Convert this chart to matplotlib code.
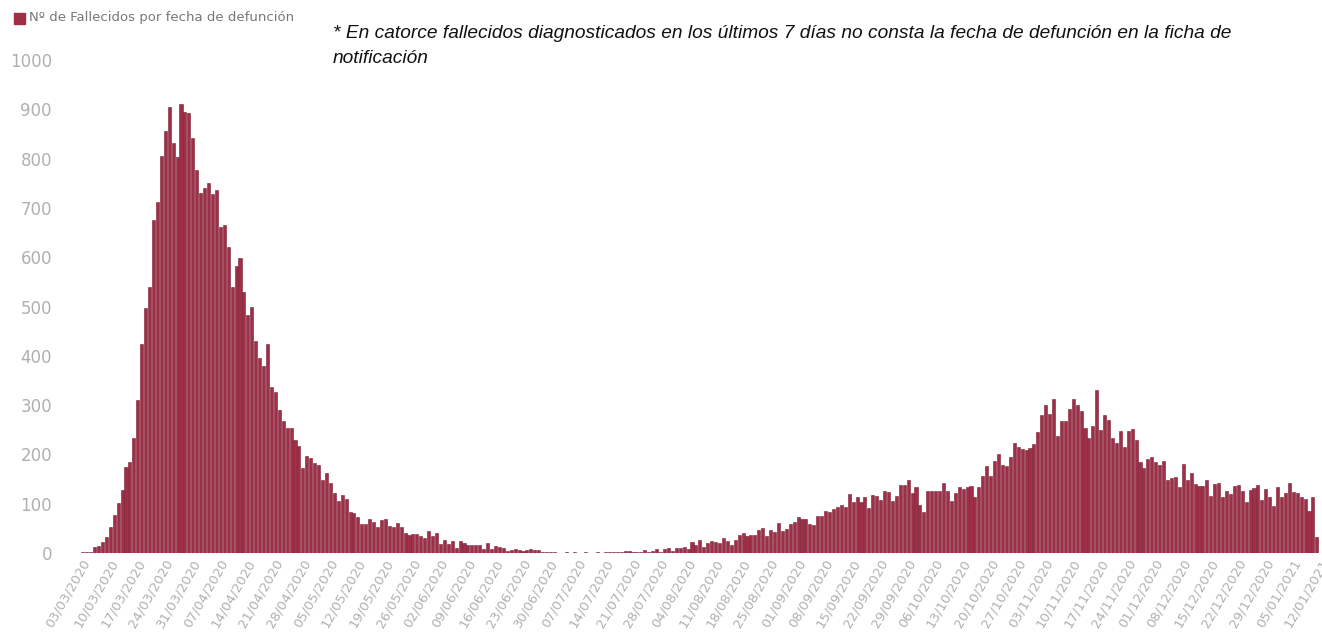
import matplotlib
matplotlib.use("Agg")
import matplotlib.pyplot as plt
import matplotlib.dates as mdates
from matplotlib.transforms import ScaledTranslation
from matplotlib.patches import Rectangle
import numpy as np
import pandas as pd

# daily deaths by date of death, starting 03/03/2020
start_date = "2020-03-03"
deaths = [
    1, 1, 2, 2, 3,
    12, 15, 23, 33, 53, 77, 102, 127, 174, 184,
    234, 311, 424, 496, 539, 675, 711, 806, 856, 905,
    832, 804, 910, 895, 893, 842, 776, 731, 741, 751,
    728, 736, 661, 666, 621, 539, 583, 599, 529, 482,
    498, 431, 395, 379, 423, 337, 327,
    # May - June
    290, 267, 253, 253, 230, 218, 172, 196, 192, 183,
    178, 148, 162, 141, 121, 106, 118, 110, 83, 81,
    73, 59, 58, 68, 63, 53, 66, 68, 55, 52,
    61, 53, 41, 37, 39, 39, 35, 31, 45, 35,
    41, 19, 26, 18, 25, 11, 25, 21, 17, 17,
    17, 17, 9, 20, 9, 14, 13, 11, 5, 7,
    9, 7, 5, 7, 8, 7, 7, 3, 3, 3,
    2, 1,
    # July
    1, 2, 1, 2, 1, 1, 2, 1, 1, 2, 1, 2, 3, 2, 3, 2, 5, 4, 2, 3,
    # second wave
    3, 6, 3, 5, 9, 3, 9, 11, 5, 11,
    11, 13, 8, 23, 17, 26, 13, 21, 24, 23,
    21, 31, 25, 17, 27, 36, 41, 34, 36, 36,
    47, 51, 35, 46, 43, 61, 44, 48, 58, 63,
    73, 68, 68, 59, 57, 76, 76, 86, 84, 90,
    94, 98, 93, 120, 103, 114, 104, 113, 92, 118,
    116, 108, 125, 124, 106, 115, 138, 138, 148,
    121, 133, 98, 83, 126, 126, 126, 125, 143, 126,
    106, 121, 134, 130, 134, 136, 114, 134, 156, 176,
    156, 187, 201, 178, 176, 194, 224, 216, 210, 208,
    213, 221, 245, 280, 300, 281, 313, 238, 268, 267,
    293, 313, 300, 288, 253, 234, 258, 330, 250, 279,
    270, 233, 223, 248,
    216, 248, 251, 230, 185, 173, 191, 195, 184, 178,
    186, 148, 153, 154, 134, 181, 148, 163, 140, 135,
    136, 148, 116, 140, 143, 114, 125, 120, 136, 138,
    125, 104, 128, 131, 138, 108, 129, 114, 96, 134,
    114, 121, 141, 124, 121, 114, 110, 86, 114, 33,
]
dates = pd.date_range(start_date, periods=len(deaths), freq="D")
tick_dates = pd.date_range(start_date, "2021-01-12", freq="7D")
yticks = [0, 100, 200, 300, 400, 500, 600, 700, 800, 900, 1000]

legend_label = "Nº de Fallecidos por fecha de defunción"
note = ("* En catorce fallecidos diagnosticados en los últimos 7 días no consta "
        "la fecha de defunción en la ficha de\nnotificación")

bar_color = "#9e2f47"
grey = "#b0b0b0"

fig = plt.figure(figsize=(13.22, 6.44), dpi=100)
ax = fig.add_axes([70 / 1322, 91 / 644, 1252 / 1322, 493 / 644])

ax.bar(dates, deaths, width=0.78, color=bar_color, edgecolor="#7a1f33", linewidth=0.4)

ax.set_ylim(0, 1000)
ax.set_xlim(dates[0] - pd.Timedelta(hours=30), dates[0] + pd.Timedelta(days=317.3))
for s in ax.spines.values():
    s.set_visible(False)

ax.set_yticks(yticks)
ax.set_yticklabels([str(v) for v in yticks])
ax.tick_params(axis="y", length=0, pad=13, labelsize=12, labelcolor=grey)

ax.set_xticks(tick_dates)
ax.xaxis.set_major_formatter(mdates.DateFormatter("%d/%m/%Y"))
ax.tick_params(axis="x", length=0, pad=3, labelsize=9.5, labelcolor=grey)
offset = ScaledTranslation(7 / 100, 0, fig.dpi_scale_trans)
for lab in ax.get_xticklabels():
    lab.set_rotation(60)
    lab.set_ha("right")
    lab.set_va("top")
    lab.set_rotation_mode("anchor")
    lab.set_transform(lab.get_transform() + offset)

# legend-like header
fig.patches.append(Rectangle((14 / 1322, 1 - 24 / 644), 11 / 1322, 11 / 644,
                             transform=fig.transFigure, color=bar_color))
fig.text(29 / 1322, 1 - 18 / 644, legend_label, fontsize=9.5, color="#777777",
         va="center", ha="left")

fig.text(333 / 1322, 1 - 25 / 644, note, fontsize=13.8, style="italic",
         family=["Liberation Sans", "DejaVu Sans"], color="#111111",
         va="top", ha="left", linespacing=1.6)

fig.savefig("out.png", dpi=100)
